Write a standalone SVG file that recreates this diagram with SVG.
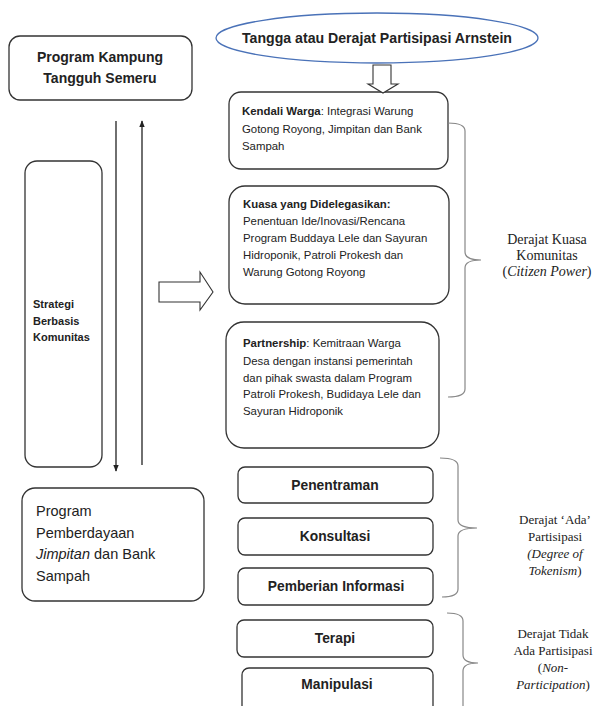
<svg xmlns="http://www.w3.org/2000/svg" width="597" height="706" viewBox="0 0 597 706">
<defs>
<style>
.box{fill:#fff;stroke:#333;stroke-width:1.3}
.ell{fill:#fff;stroke:#4a72b8;stroke-width:1.3}
.blk{fill:#fff;stroke:#333;stroke-width:1.1}
.ln{fill:none;stroke:#222;stroke-width:1.3}
.br{fill:none;stroke:#888;stroke-width:1.2}
.s{font-family:"Liberation Sans",Arial,sans-serif;fill:#222}
.b{font-weight:bold}
.t{font-family:"Liberation Serif","Times New Roman",serif;fill:#222;font-size:14px;text-anchor:middle}
.t2{font-size:13px}
.c{text-anchor:middle}
.m{font-size:11.4px}
.k{font-size:13.8px}
</style>
<marker id="ah" viewBox="0 0 10 10" refX="9" refY="5" markerWidth="7" markerHeight="7" orient="auto" markerUnits="userSpaceOnUse">
<path d="M0,1 L10,5 L0,9 z" fill="#222"/>
</marker>
</defs>
<rect width="597" height="706" fill="#fff"/>

<g id="kampung">
<rect class="box" x="9" y="36" width="183" height="64" rx="11"/>
<text class="s b c" x="100" y="62" font-size="14">Program Kampung</text>
<text class="s b c" x="100" y="83" font-size="14">Tangguh Semeru</text>
</g>

<g id="arnstein">
<ellipse class="ell" cx="377" cy="38" rx="161" ry="25"/>
<text class="s b c" x="377" y="43" font-size="14" textLength="270" lengthAdjust="spacingAndGlyphs">Tangga atau Derajat Partisipasi Arnstein</text>
</g>

<g id="strategi">
<rect class="box" x="25" y="161" width="77" height="306" rx="12"/>
<text class="s b" x="33" y="308" font-size="11">Strategi</text>
<text class="s b" x="33" y="325" font-size="11">Berbasis</text>
<text class="s b" x="33" y="341" font-size="11">Komunitas</text>
</g>

<g id="pemberdayaan">
<rect class="box" x="22" y="488" width="182" height="113" rx="13"/>
<text class="s" x="36" y="516" font-size="14.5">Program</text>
<text class="s" x="36" y="538" font-size="14.5">Pemberdayaan</text>
<text class="s" x="36" y="559" font-size="14.5"><tspan font-style="italic">Jimpitan</tspan> dan Bank</text>
<text class="s" x="36" y="581" font-size="14.5">Sampah</text>
</g>

<g id="kendali">
<rect class="box" x="229" y="92" width="219" height="77" rx="12"/>
<text class="s m" x="242" y="115"><tspan class="b">Kendali Warga</tspan>: Integrasi Warung</text>
<text class="s m" x="242" y="133">Gotong Royong, Jimpitan dan Bank</text>
<text class="s m" x="242" y="150">Sampah</text>
</g>

<g id="kuasa">
<rect class="box" x="229" y="186" width="220" height="118" rx="16"/>
<text class="s b m" x="243" y="208">Kuasa yang Didelegasikan:</text>
<text class="s m" x="243" y="225">Penentuan Ide/Inovasi/Rencana</text>
<text class="s m" x="243" y="242">Program Buddaya Lele dan Sayuran</text>
<text class="s m" x="243" y="259">Hidroponik, Patroli Prokesh dan</text>
<text class="s m" x="243" y="276">Warung Gotong Royong</text>
</g>

<g id="partnership">
<rect class="box" x="226" y="322" width="213" height="126" rx="18"/>
<text class="s m" x="243" y="347"><tspan class="b">Partnership</tspan>: Kemitraan Warga</text>
<text class="s m" x="243" y="365">Desa dengan instansi pemerintah</text>
<text class="s m" x="243" y="382">dan pihak swasta dalam Program</text>
<text class="s m" x="243" y="398">Patroli Prokesh, Budidaya Lele dan</text>
<text class="s m" x="243" y="415">Sayuran Hidroponik</text>
</g>

<g id="penentraman">
<rect class="box" x="238" y="467" width="195" height="36" rx="7"/>
<text class="s b c k" x="335" y="490">Penentraman</text>
</g>
<g id="konsultasi">
<rect class="box" x="238" y="518" width="195" height="37" rx="7"/>
<text class="s b c k" x="335" y="541">Konsultasi</text>
</g>
<g id="informasi">
<rect class="box" x="238" y="568" width="195" height="37" rx="7"/>
<text class="s b c k" x="336" y="591">Pemberian Informasi</text>
</g>
<g id="terapi">
<rect class="box" x="237" y="620" width="196" height="37" rx="7"/>
<text class="s b c k" x="335" y="643">Terapi</text>
</g>
<g id="manipulasi">
<rect class="box" x="242" y="668" width="191" height="45" rx="7"/>
<text class="s b c k" x="337" y="689">Manipulasi</text>
</g>

<g id="label-citizen">
<text class="t" x="547" y="244">Derajat Kuasa</text>
<text class="t" x="547" y="260">Komunitas</text>
<text class="t" x="547" y="276">(<tspan font-style="italic">Citizen Power</tspan>)</text>
</g>
<g id="label-tokenism">
<text class="t t2" x="555" y="524">Derajat ‘Ada’</text>
<text class="t t2" x="555" y="541">Partisipasi</text>
<text class="t t2" x="555" y="558" font-style="italic">(Degree of</text>
<text class="t t2" x="555" y="575"><tspan font-style="italic">Tokenism</tspan>)</text>
</g>
<g id="label-nonpart">
<text class="t t2" x="553" y="638">Derajat Tidak</text>
<text class="t t2" x="553" y="655">Ada Partisipasi</text>
<text class="t t2" x="553" y="672">(<tspan font-style="italic">Non-</tspan></text>
<text class="t t2" x="553" y="689"><tspan font-style="italic">Participation</tspan>)</text>
</g>

<g id="connectors">
<line class="ln" x1="116" y1="121" x2="116" y2="471" marker-end="url(#ah)"/>
<line class="ln" x1="142" y1="465" x2="142" y2="121" marker-end="url(#ah)"/>
<path class="blk" d="M373,65 L391,65 L391,84 L398,84 L383,93 L368,84 L373,84 Z"/>
<path class="blk" d="M159,282 L200,282 L200,272 L213,292 L200,310 L200,302 L159,302 Z"/>
<path class="br" d="M448,123 Q465,123 465,131 L465,252 Q465,260 481,260 Q465,260 465,268 L465,389 Q465,397 448,397"/>
<path class="br" d="M440,458 Q458,458 458,466 L458,520 Q458,528 477,528 Q458,528 458,536 L458,589 Q458,597 442,597"/>
<path class="br" d="M447,613 Q463,613 463,621 L463,655 Q463,663 478,663 Q463,663 463,671 L463,706"/>
</g>
</svg>
